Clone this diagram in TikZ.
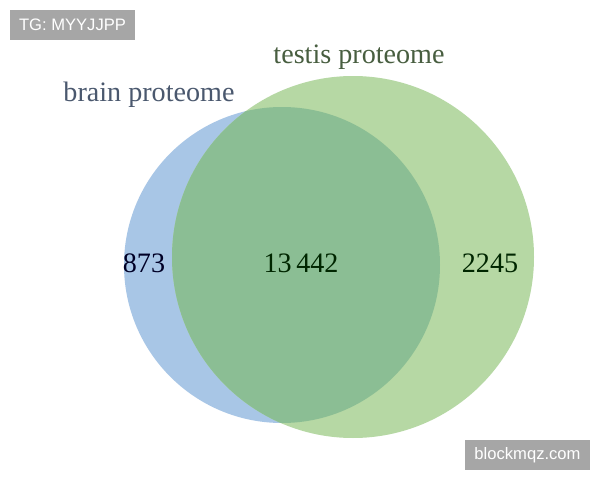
\documentclass[tikz,border=0pt]{standalone}
\usepackage{fontspec}
\setmainfont{Liberation Serif}
\newfontfamily\wmfont{Liberation Sans}
\definecolor{brainblue}{RGB}{168,198,230}
\definecolor{testisgreen}{RGB}{182,216,164}
\definecolor{bothgreen}{RGB}{139,190,148}
\definecolor{brainlabel}{RGB}{74,88,110}
\definecolor{testislabel}{RGB}{72,94,64}
\definecolor{wmgray}{RGB}{166,166,166}
\tikzset{
  setlabel/.style={font=\fontsize{20}{24}\selectfont},
  count/.style={font=\fontsize{20}{24}\selectfont},
  wmbox/.style={fill=wmgray, text=white, minimum width=125*0.025cm, minimum height=30*0.025cm,
    inner sep=0pt, font=\wmfont\fontsize{11.8}{13}\selectfont}
}
\begin{document}
\begin{tikzpicture}[x=0.025cm,y=-0.025cm]
            \useasboundingbox[fill=white] (0,0) rectangle (600,480);
            % Conjuntos
            \fill[brainblue] (282,265) circle[radius=158];
            \fill[testisgreen] (353,257) circle[radius=181];
            \begin{scope}
                \clip (282,265) circle[radius=158];
                \fill[bothgreen] (353,257) circle[radius=181];
            \end{scope}
            % Etiquetas
            \node[setlabel,text=brainlabel] (brain) at (149,95) {brain proteome};
            \node[setlabel,text=testislabel] (testis) at (359,57) {testis proteome};
            \node[count,text=black!85!blue] (onlybrain) at (144,263) {873};
            \node[count,text=black!85!green] (shared) at (301,263) {13\,442};
            \node[count,text=black!85!green] (onlytestis) at (490,263) {2245};
            % Marcas de agua
            \node[wmbox] (tg) at (72.5,25) {TG: MYYJJPP};
            \node[wmbox] (site) at (527.5,455) {blockmqz.com};
        \end{tikzpicture}
\end{document}
